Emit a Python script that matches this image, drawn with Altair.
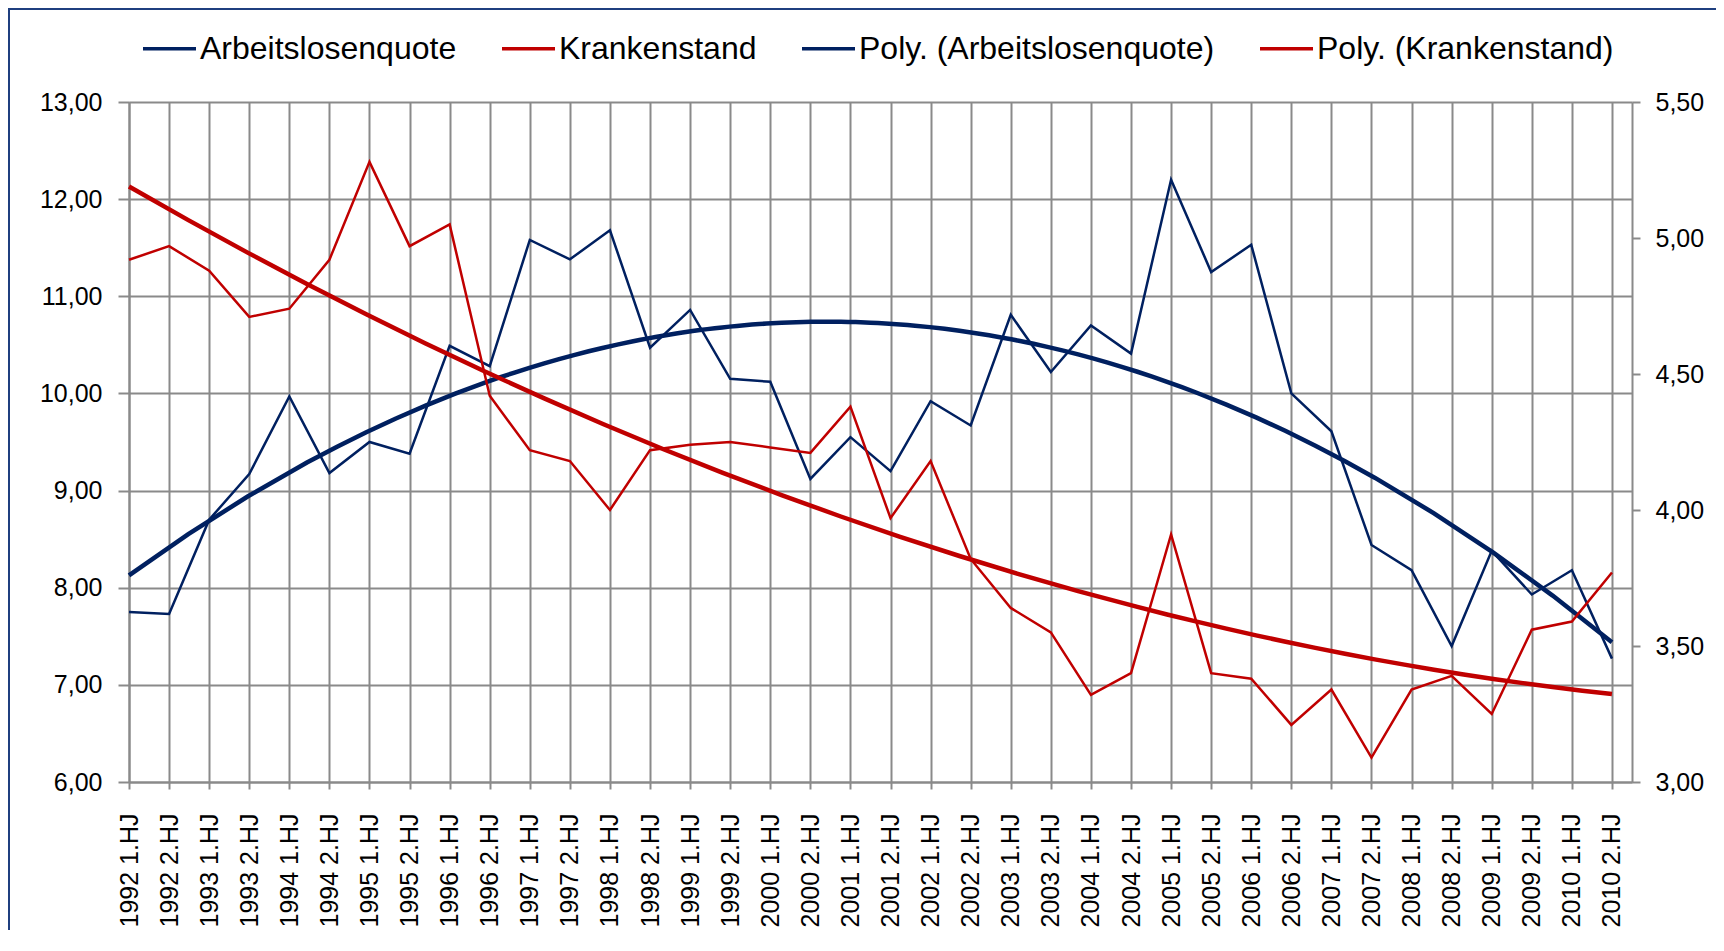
import json
import pandas as pd
import altair as alt

categories = [
    "1992 1.HJ", "1992 2.HJ", "1993 1.HJ", "1993 2.HJ", "1994 1.HJ", "1994 2.HJ",
    "1995 1.HJ", "1995 2.HJ", "1996 1.HJ", "1996 2.HJ", "1997 1.HJ", "1997 2.HJ",
    "1998 1.HJ", "1998 2.HJ", "1999 1.HJ", "1999 2.HJ", "2000 1.HJ", "2000 2.HJ",
    "2001 1.HJ", "2001 2.HJ", "2002 1.HJ", "2002 2.HJ", "2003 1.HJ", "2003 2.HJ",
    "2004 1.HJ", "2004 2.HJ", "2005 1.HJ", "2005 2.HJ", "2006 1.HJ", "2006 2.HJ",
    "2007 1.HJ", "2007 2.HJ", "2008 1.HJ", "2008 2.HJ", "2009 1.HJ", "2009 2.HJ",
    "2010 1.HJ", "2010 2.HJ",
]

arbeitslosenquote = [
    7.75, 7.73, 8.70, 9.17, 9.97, 9.18, 9.50, 9.38, 10.49, 10.28, 11.58, 11.38,
    11.68, 10.47, 10.86, 10.15, 10.12, 9.12, 9.55, 9.20, 9.92, 9.67, 10.81, 10.22,
    10.70, 10.41, 12.20, 11.25, 11.53, 10.00, 9.61, 8.44, 8.18, 7.40, 8.38, 7.93,
    8.18, 7.27,
]

krankenstand = [
    4.92, 4.97, 4.88, 4.71, 4.74, 4.92, 5.28, 4.97, 5.05, 4.42, 4.22, 4.18,
    4.00, 4.22, 4.24, 4.25, 4.23, 4.21, 4.38, 3.97, 4.18, 3.82, 3.64, 3.55,
    3.32, 3.40, 3.91, 3.40, 3.38, 3.21, 3.34, 3.09, 3.34, 3.39, 3.25, 3.56,
    3.59, 3.77,
]

series_names = ["Arbeitslosenquote", "Krankenstand",
                "Poly. (Arbeitslosenquote)", "Poly. (Krankenstand)"]
series_colors = ["#002060", "#C00000", "#002060", "#C00000"]

left_ticks = [6, 7, 8, 9, 10, 11, 12, 13]
right_ticks = [3.0, 3.5, 4.0, 4.5, 5.0, 5.5]

idx = list(range(1, len(categories) + 1))
df_a = pd.DataFrame({"idx": idx, "value": arbeitslosenquote})
df_k = pd.DataFrame({"idx": idx, "value": krankenstand})

FONT = "Liberation Sans"
GRID = "#8a8a8a"
BORDER = "#1F3F7F"
comma_fmt = "replace(format(datum.value, '.2f'), '.', ',')"
x_label_expr = json.dumps(categories).replace('"', "'") + "[datum.value - 1]"

legend = alt.Legend(
    title=None, orient="none", legendX=12, legendY=-82, direction="horizontal",
    columns=4, symbolType="stroke", symbolSize=2809, symbolStrokeWidth=3.5,
    labelFont=FONT, labelFontSize=32, labelColor="black", labelOffset=2,
    columnPadding=38, labelLimit=0,
)
color = alt.Color("series:N", scale=alt.Scale(domain=series_names, range=series_colors),
                  legend=legend)

x_enc = alt.X(
    "idx:Q",
    scale=alt.Scale(domain=[1, 38.5], nice=False, zero=False),
    axis=alt.Axis(
        values=idx, labelExpr=x_label_expr, labelAngle=-90, labelFont=FONT,
        labelFontSize=25, labelColor="black", labelPadding=24, labelFlush=False,
        labelOverlap=False, tickSize=7, tickColor=GRID, tickWidth=2,
        grid=True, gridColor=GRID, gridWidth=2, domainColor=GRID, domainWidth=2,
        title=None,
    ),
)

left_scale = alt.Scale(domain=[6, 13], nice=False, zero=False)
right_scale = alt.Scale(domain=[3, 5.5], nice=False, zero=False)

left_axis = alt.Axis(
    orient="left", values=left_ticks, labelExpr=comma_fmt, labelFont=FONT,
    labelFontSize=25, labelColor="black", labelPadding=16, labelFlush=False,
    tickSize=11, tickColor=GRID, tickWidth=2,
    grid=True, gridColor=GRID, gridWidth=2, domainColor=GRID, domainWidth=2,
    title=None,
)
right_axis = alt.Axis(
    orient="right", values=right_ticks, labelExpr=comma_fmt, labelFont=FONT,
    labelFontSize=25, labelColor="black", labelPadding=15, labelFlush=False,
    tickSize=8, tickColor=GRID, tickWidth=2, grid=False, domainColor=GRID,
    domainWidth=2, title=None,
)

y_left = alt.Y("value:Q", scale=left_scale, axis=left_axis)
y_right = alt.Y("value:Q", scale=right_scale, axis=right_axis)

blue = alt.Chart(df_a).transform_calculate(series="'Arbeitslosenquote'").mark_line(
    strokeWidth=2.5).encode(x=x_enc, y=y_left, color=color)
blue_poly = alt.Chart(df_a).transform_regression(
    "idx", "value", method="poly", order=2
).transform_calculate(series="'Poly. (Arbeitslosenquote)'").mark_line(
    strokeWidth=4.5).encode(x=x_enc, y=y_left, color=color)

red = alt.Chart(df_k).transform_calculate(series="'Krankenstand'").mark_line(
    strokeWidth=2.5).encode(x=x_enc, y=y_right, color=color)
red_poly = alt.Chart(df_k).transform_regression(
    "idx", "value", method="poly", order=2
).transform_calculate(series="'Poly. (Krankenstand)'").mark_line(
    strokeWidth=4.5).encode(x=x_enc, y=y_right, color=color)

left = alt.layer(blue, blue_poly)
right = alt.layer(red, red_poly)

frame = pd.DataFrame({"a": [0]})
border_left = alt.Chart(frame).mark_rule(stroke=BORDER, strokeWidth=2).encode(
    x=alt.value(-120), y=alt.value(-93), y2=alt.value(900))
border_top = alt.Chart(frame).mark_rule(stroke=BORDER, strokeWidth=2).encode(
    x=alt.value(-121), x2=alt.value(1700), y=alt.value(-93))

chart = alt.layer(left, right, border_left, border_top).resolve_scale(
    y="independent"
).properties(
    width=1503, height=680,
    padding={"left": 121, "top": 94, "right": 84, "bottom": 148},
    autosize=alt.AutoSizeParams(type="none"),
).configure_view(strokeWidth=0, stroke="transparent").configure(font=FONT)

chart.save("out.html", embed_options={"renderer": "svg", "actions": False})
